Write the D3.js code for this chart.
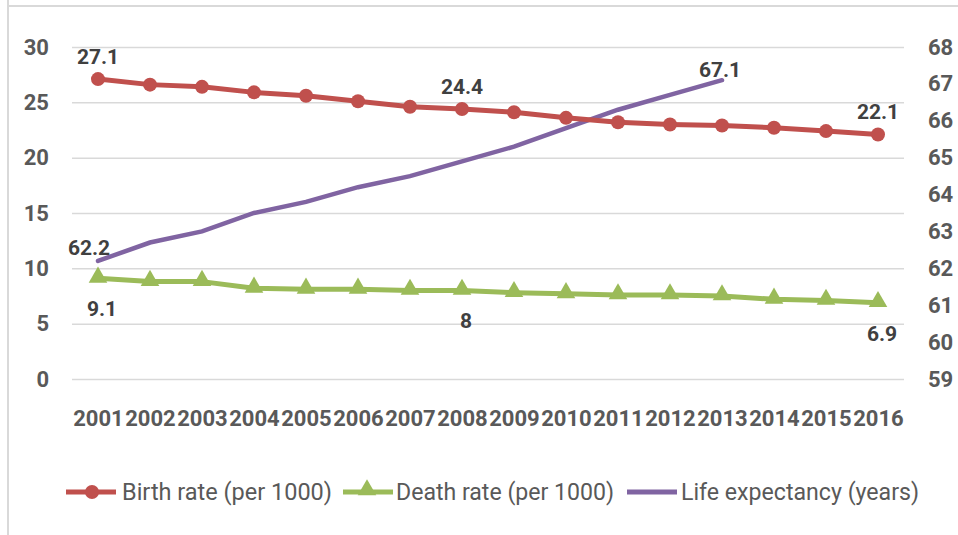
<!DOCTYPE html>
<html>
<head>
<meta charset="utf-8">
<script src="https://cdn.jsdelivr.net/npm/d3@7"></script>
<style>
  html, body { margin: 0; padding: 0; background: #fff; }
  svg { display: block; }
  text { font-family: Roboto, "Noto Sans", sans-serif; }
</style>
</head>
<body>
<svg id="chart" width="958" height="535"></svg>
<script>
const years = ["2001","2002","2003","2004","2005","2006","2007","2008","2009","2010","2011","2012","2013","2014","2015","2016"];
const birthRate = [27.1, 26.6, 26.4, 25.9, 25.6, 25.1, 24.6, 24.4, 24.1, 23.6, 23.2, 23.0, 22.9, 22.7, 22.4, 22.1];
const deathRate = [9.1, 8.8, 8.8, 8.2, 8.1, 8.1, 8.0, 8.0, 7.8, 7.7, 7.6, 7.6, 7.5, 7.2, 7.1, 6.9];
const lifeYears = ["2001","2002","2003","2004","2005","2006","2007","2008","2009","2010","2011","2012","2013"];
const lifeExpectancy = [62.2, 62.7, 63.0, 63.5, 63.8, 64.2, 64.5, 64.9, 65.3, 65.8, 66.3, 66.7, 67.1];
const leftTicks = [0, 5, 10, 15, 20, 25, 30];
const rightTicks = [59, 60, 61, 62, 63, 64, 65, 66, 67, 68];
const seriesNames = ["Birth rate (per 1000)", "Death rate (per 1000)", "Life expectancy (years)"];
// labelled points: [series, index, text]
const birthLabels = [[0, "27.1"], [7, "24.4"], [15, "22.1"]];
const deathLabels = [[0, "9.1"], [7, "8"], [15, "6.9"]];
const lifeLabels = [[0, "62.2"], [12, "67.1"]];

const RED = "#C0504D", GREEN = "#9BBB59", PURPLE = "#8064A2";
const GRID = "#d9d9d9", AXIS_TXT = "#595959", LBL_TXT = "#404040";

const svg = d3.select("#chart");
const plotLeft = 72, plotRight = 904, plotTop = 47, plotBottom = 379;

// outer border fragments (chart area frame)
svg.append("line").attr("x1", 8).attr("x2", 8).attr("y1", 0).attr("y2", 535)
  .attr("stroke", GRID).attr("stroke-width", 2);
svg.append("line").attr("x1", 8).attr("x2", 958).attr("y1", 6).attr("y2", 6)
  .attr("stroke", GRID).attr("stroke-width", 2);

const x = d3.scalePoint().domain(years).range([plotLeft, plotRight]).padding(0.5);
const yL = d3.scaleLinear().domain([0, 30]).range([plotBottom, plotTop]);
const yR = d3.scaleLinear().domain([59, 68]).range([plotBottom, plotTop]);

// gridlines
const grid = svg.append("g").attr("transform", `translate(${plotLeft},0)`)
  .call(d3.axisLeft(yL).tickValues(leftTicks).tickSize(-(plotRight - plotLeft)).tickFormat(""));
grid.select(".domain").remove();
grid.selectAll("line").attr("stroke", GRID).attr("stroke-width", 1.5);

// left axis labels
const axL = svg.append("g").attr("transform", "translate(49,0)")
  .call(d3.axisLeft(yL).tickValues(leftTicks).tickSize(0).tickPadding(0));
axL.select(".domain").remove();
axL.selectAll("text").attr("fill", AXIS_TXT).style("font-size", "22px").style("font-weight", "bold")
  .attr("font-family", null);

// right axis labels
const axR = svg.append("g").attr("transform", "translate(928,0)")
  .call(d3.axisRight(yR).tickValues(rightTicks).tickSize(0).tickPadding(0));
axR.select(".domain").remove();
axR.selectAll("text").attr("fill", AXIS_TXT).style("font-size", "22px").style("font-weight", "bold")
  .attr("font-family", null);

// x axis labels
const axX = svg.append("g").attr("transform", "translate(0,410)")
  .call(d3.axisBottom(x).tickSize(0).tickPadding(0));
axX.select(".domain").remove();
axX.selectAll("text").attr("fill", AXIS_TXT).style("font-size", "22px").style("font-weight", "bold")
  .attr("font-family", null).attr("dy", "0.72em");

// lines
const lineL = (vals, keys) => d3.line().x((d, i) => x(keys[i])).y(d => yL(d))(vals);
const lineR = (vals, keys) => d3.line().x((d, i) => x(keys[i])).y(d => yR(d))(vals);

// life expectancy
svg.append("path").attr("d", lineR(lifeExpectancy, lifeYears))
  .attr("fill", "none").attr("stroke", PURPLE).attr("stroke-width", 4.5).attr("stroke-linecap", "round");

// death rate
svg.append("path").attr("d", lineL(deathRate, years))
  .attr("fill", "none").attr("stroke", GREEN).attr("stroke-width", 5).attr("stroke-linejoin", "round");
const tri = d3.symbol().type(d3.symbolTriangle).size(150);
svg.append("g").selectAll("path").data(deathRate).join("path")
  .attr("d", tri)
  .attr("transform", (d, i) => `translate(${x(years[i])},${yL(d) - 1})`)
  .attr("fill", GREEN);

// birth rate
svg.append("path").attr("d", lineL(birthRate, years))
  .attr("fill", "none").attr("stroke", RED).attr("stroke-width", 5).attr("stroke-linejoin", "round");
svg.append("g").selectAll("circle").data(birthRate).join("circle")
  .attr("cx", (d, i) => x(years[i])).attr("cy", d => yL(d)).attr("r", 7)
  .attr("fill", RED);

// data labels
const lbl = (sel) => sel.attr("fill", LBL_TXT).style("font-size", "21px").style("font-weight", "bold")
  .attr("text-anchor", "middle");
svg.append("g").selectAll("text").data(birthLabels).join("text")
  .attr("x", d => x(years[d[0]])).attr("y", d => yL(birthRate[d[0]]) - 15)
  .text(d => d[1]).call(lbl);
svg.append("g").selectAll("text").data(deathLabels).join("text")
  .attr("x", d => x(years[d[0]]) + 4).attr("y", d => yL(deathRate[d[0]]) + 38)
  .text(d => d[1]).call(lbl);
svg.append("g").selectAll("text").data(lifeLabels).join("text")
  .attr("x", (d, i) => x(lifeYears[d[0]]) + (i === 0 ? -9 : -2))
  .attr("y", (d, i) => yR(lifeExpectancy[d[0]]) - (i === 0 ? 6 : 3))
  .text(d => d[1]).call(lbl);

// legend
const legY = 492;
const legendItems = [
  { name: seriesNames[0], color: RED, mark: "circle", x0: 66, tx: 122, tw: 210 },
  { name: seriesNames[1], color: GREEN, mark: "triangle", x0: 343, tx: 396, tw: 218 },
  { name: seriesNames[2], color: PURPLE, mark: "none", x0: 627, tx: 681, tw: 238 }
];
const leg = svg.append("g").selectAll("g").data(legendItems).join("g");
leg.append("line").attr("x1", d => d.x0).attr("x2", d => d.x0 + 50)
  .attr("y1", legY).attr("y2", legY).attr("stroke", d => d.color).attr("stroke-width", 5);
leg.filter(d => d.mark === "circle").append("circle")
  .attr("cx", d => d.x0 + 26).attr("cy", legY).attr("r", 7).attr("fill", d => d.color);
leg.filter(d => d.mark === "triangle").append("path")
  .attr("d", tri).attr("transform", d => `translate(${d.x0 + 24},${legY - 2})`).attr("fill", d => d.color);
leg.append("text").attr("x", d => d.tx).attr("y", legY + 8)
  .attr("textLength", d => d.tw).attr("lengthAdjust", "spacingAndGlyphs")
  .attr("fill", AXIS_TXT).style("font-size", "23px")
  .text(d => d.name);
</script>
</body>
</html>
